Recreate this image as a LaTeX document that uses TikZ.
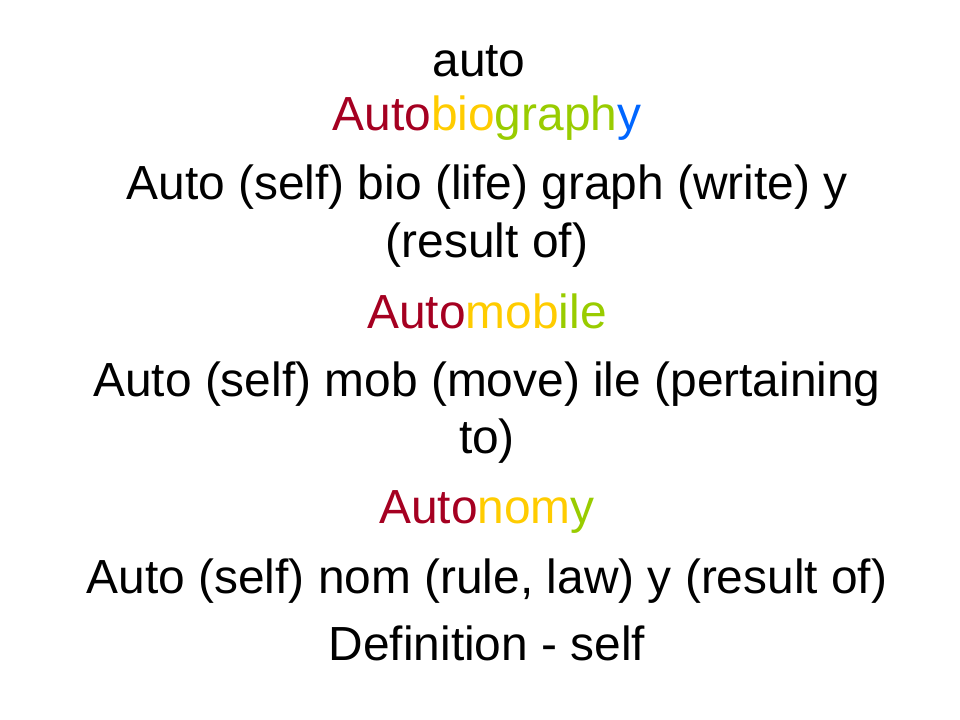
\documentclass[tikz,border=0pt]{standalone}
\usepackage{fontspec}
\setmainfont{Liberation Sans}
\definecolor{cred}{HTML}{A50021}
\definecolor{cyel}{HTML}{FFCC00}
\definecolor{cgrn}{HTML}{99CC00}
\definecolor{cblu}{HTML}{0066FF}
\begin{document}
\begin{tikzpicture}[x=0.75pt,y=-0.75pt,
  txt/.style={anchor=base,inner sep=0pt,font=\fontsize{35.9}{42}\selectfont}]
\useasboundingbox[fill=white] (0,0) rectangle (960,720);
\node[txt] (l1) at (479,77) {auto};
\node[txt] (l2) at (487,131) {\textcolor{cred}{Auto}\textcolor{cyel}{bio}\textcolor{cgrn}{graph}\textcolor{cblu}{y}};
\node[txt] (l3) at (487,200) {Auto (self) bio (life) graph (write) y};
\node[txt] (l4) at (487,258) {(result of)};
\node[txt] (l5) at (487,329) {\textcolor{cred}{Auto}\textcolor{cyel}{mob}\textcolor{cgrn}{ile}};
\node[txt] (l6) at (487,396) {Auto (self) mob (move) ile (pertaining};
\node[txt] (l7) at (487,453) {to)};
\node[txt] (l8) at (487,523) {\textcolor{cred}{Auto}\textcolor{cyel}{nom}\textcolor{cgrn}{y}};
\node[txt] (l9) at (487,593) {Auto (self) nom (rule, law) y (result of)};
\node[txt] (l10) at (487,660) {Definition - self};
\end{tikzpicture}
\end{document}
